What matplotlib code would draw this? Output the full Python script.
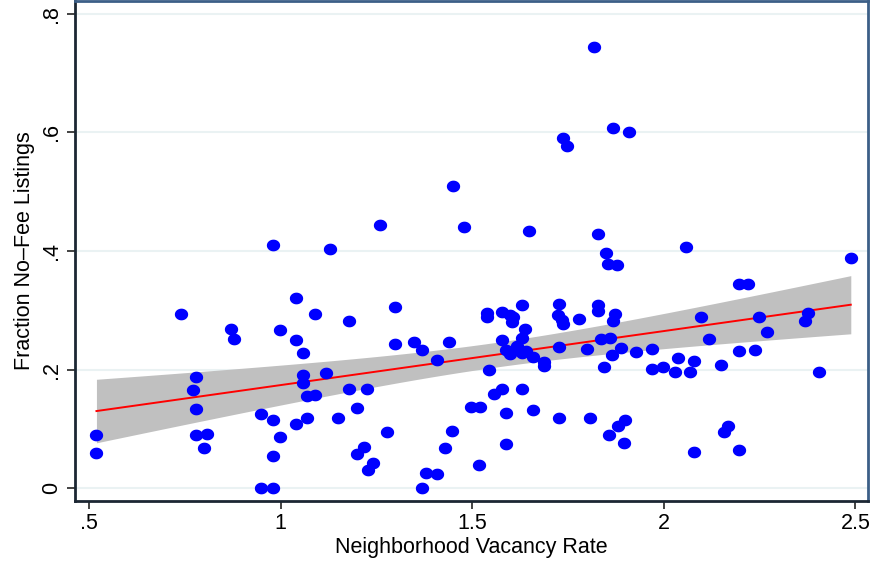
import numpy as np
import matplotlib
matplotlib.use("Agg")
import matplotlib.pyplot as plt
from matplotlib.path import Path

plt.rcParams['font.family'] = ['Liberation Sans', 'DejaVu Sans']

# vacancy rate (x) and fraction of no-fee listings (y)
vacancy = [0.519, 0.519, 0.739, 0.770, 0.779, 0.779, 0.779, 0.808, 0.799, 0.869,
           0.879, 0.948, 0.948, 0.979, 0.979, 0.979, 0.979, 0.998, 0.998, 1.039,
           1.039, 1.039, 1.059, 1.059, 1.059, 1.068, 1.069, 1.089, 1.089, 1.117,
           1.128, 1.149, 1.179, 1.179, 1.198, 1.198, 1.218, 1.224, 1.227, 1.240,
           1.259, 1.278, 1.298, 1.298, 1.349, 1.368, 1.369, 1.378, 1.409, 1.409,
           1.429, 1.439, 1.448, 1.449, 1.478, 1.496, 1.518, 1.520, 1.538, 1.538,
           1.544, 1.557, 1.578, 1.578, 1.578, 1.588, 1.588, 1.588, 1.598, 1.598,
           1.603, 1.607, 1.616, 1.629, 1.629, 1.629, 1.629, 1.638, 1.640, 1.648,
           1.658, 1.658, 1.688, 1.688, 1.723, 1.727, 1.727, 1.727, 1.733, 1.738,
           1.738, 1.748, 1.779, 1.799, 1.807, 1.818, 1.827, 1.827, 1.827, 1.836,
           1.844, 1.848, 1.855, 1.858, 1.860, 1.864, 1.867, 1.868, 1.873, 1.877,
           1.881, 1.888, 1.897, 1.899, 1.909, 1.927, 1.968, 1.968, 1.999, 2.029,
           2.038, 2.058, 2.068, 2.079, 2.079, 2.097, 2.118, 2.149, 2.157, 2.167,
           2.196, 2.197, 2.197, 2.219, 2.238, 2.249, 2.269, 2.369, 2.377, 2.406,
           2.488]
nofee = [0.090, 0.059, 0.293, 0.166, 0.187, 0.133, 0.089, 0.0915, 0.068, 0.268,
         0.252, 0.125, 0.000, 0.410, 0.115, 0.054, 0.000, 0.267, 0.087, 0.320,
         0.250, 0.108, 0.2275, 0.191, 0.177, 0.156, 0.118, 0.293, 0.157, 0.194,
         0.404, 0.118, 0.282, 0.167, 0.136, 0.057, 0.070, 0.167, 0.030, 0.042,
         0.444, 0.095, 0.306, 0.243, 0.247, 0.000, 0.233, 0.026, 0.216, 0.0236,
         0.0674, 0.246, 0.0966, 0.510, 0.440, 0.1365, 0.040, 0.1365, 0.296, 0.289,
         0.199, 0.159, 0.2976, 0.249, 0.167, 0.233, 0.126, 0.0746, 0.292, 0.226,
         0.281, 0.289, 0.239, 0.308, 0.253, 0.2275, 0.168, 0.268, 0.231, 0.434,
         0.222, 0.132, 0.212, 0.206, 0.292, 0.310, 0.2376, 0.118, 0.2836, 0.591,
         0.277, 0.576, 0.286, 0.235, 0.118, 0.744, 0.428, 0.308, 0.299, 0.251,
         0.205, 0.397, 0.378, 0.090, 0.253, 0.2246, 0.282, 0.607, 0.293, 0.376,
         0.105, 0.237, 0.076, 0.115, 0.601, 0.230, 0.235, 0.2005, 0.204, 0.1965,
         0.219, 0.407, 0.1965, 0.215, 0.0617, 0.289, 0.2516, 0.208, 0.094, 0.1055,
         0.345, 0.232, 0.0645, 0.345, 0.233, 0.289, 0.263, 0.282, 0.296, 0.1955,
         0.3875]

x_ticks = [0.5, 1, 1.5, 2, 2.5]
x_labels = [".5", "1", "1.5", "2", "2.5"]
y_ticks = [0, 0.2, 0.4, 0.6, 0.8]
y_labels = ["0", ".2", ".4", ".6", ".8"]

x = np.array(vacancy)
y = np.array(nofee)

# linear fit with 95% CI of the prediction (like Stata lfitci)
n = len(x)
b, a = np.polyfit(x, y, 1)
resid = y - (a + b * x)
s = np.sqrt(np.sum(resid ** 2) / (n - 2))
xx = np.linspace(x.min(), x.max(), 100)
yy = a + b * xx
se = s * np.sqrt(1.0 / n + (xx - x.mean()) ** 2 / np.sum((x - x.mean()) ** 2))
t = 1.977
lo = yy - t * se
hi = yy + t * se

fig = plt.figure(figsize=(8.73, 5.61), dpi=100)
ax = fig.add_axes([0.0859, 0.1075, 0.9084, 0.8905])

for gy in y_ticks:
    ax.axhline(gy, color='#eaf2f3', lw=1.5, zorder=0)

ax.fill_between(xx, lo, hi, color='#c0c0c0', lw=0, zorder=1)
ax.plot(xx, yy, color='#ff0000', lw=1.4, zorder=2)

# slightly wide dot, like the stretched original
th = np.linspace(0, 2 * np.pi, 40)
dot = Path(np.column_stack([0.5 * np.cos(th), 0.44 * np.sin(th)]), closed=True)
ax.scatter(x, y, marker=dot, s=92, color='#0000ff', lw=0, zorder=3)

ax.set_xlim(0.463, 2.533)
ax.set_ylim(-0.021, 0.821)
ax.set_xticks(x_ticks)
ax.set_xticklabels(x_labels)
ax.set_yticks(y_ticks)
ax.set_yticklabels(y_labels, rotation=90, va='center')

ax.tick_params(axis='both', labelsize=15.5, length=6, width=1.2,
               color='#222222', labelcolor='black')
ax.tick_params(axis='x', pad=3)
ax.tick_params(axis='y', pad=3)

for side in ['left', 'bottom']:
    ax.spines[side].set_color('#1c2733')
    ax.spines[side].set_linewidth(2)
for side in ['top', 'right']:
    ax.spines[side].set_color('#3c5f87')
    ax.spines[side].set_linewidth(2)

ax.set_xlabel("Neighborhood Vacancy Rate", fontsize=15.5, labelpad=2)
ax.set_ylabel("Fraction No\u2013Fee Listings", fontsize=15.5, labelpad=5)

fig.savefig("out.png", dpi=100)
